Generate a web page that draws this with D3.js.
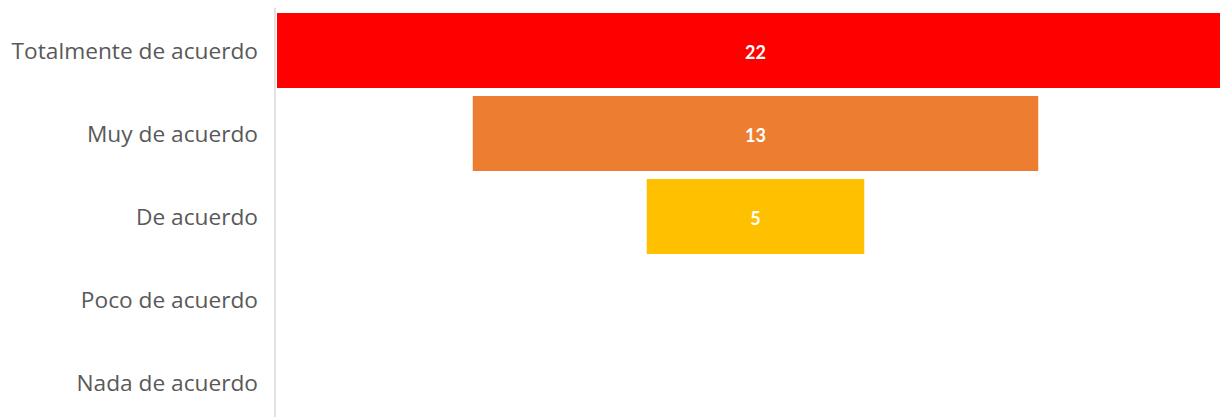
<!DOCTYPE html>
<html>
<head>
<meta charset="utf-8">
<script src="https://cdn.jsdelivr.net/npm/d3@7"></script>
<style>
  html, body { margin: 0; padding: 0; background: #fff; }
  svg { display: block; }
</style>
</head>
<body>
<svg id="chart" width="1220" height="417"></svg>
<script>
// Funnel data: one bar per response category
const categories = ["Totalmente de acuerdo", "Muy de acuerdo", "De acuerdo", "Poco de acuerdo", "Nada de acuerdo"];
const values = [22, 13, 5, 0, 0];
const colors = ["#FF0000", "#ED7D31", "#FFC000", "#5B9BD5", "#70AD47"];

const svg = d3.select("#chart");
const W = 1220, H = 417;
const axisX = 275;
const centerX = 755.5;

const y = d3.scaleBand()
  .domain(categories)
  .range([9, 424])
  .paddingInner(0.0964)
  .paddingOuter(0.0482);

const w = d3.scaleLinear()
  .domain([0, d3.max(values)])
  .range([0, 957]);

const rows = categories.map((c, i) => ({ cat: c, val: values[i], color: colors[i] }));

// Category axis line
svg.append("line")
  .attr("x1", axisX).attr("x2", axisX)
  .attr("y1", 8).attr("y2", H)
  .attr("stroke", "#d9d9d9").attr("stroke-width", 1.5);

// Category labels
svg.append("g").selectAll("text")
  .data(rows).join("text")
  .attr("x", 258)
  .attr("y", d => y(d.cat) + y.bandwidth() / 2)
  .attr("text-anchor", "end")
  .attr("dominant-baseline", "central")
  .attr("fill", "#595959")
  .style("font-family", "'Open Sans', sans-serif")
  .style("font-size", "22.7px")
  .text(d => d.cat);

// Funnel bars, centred on the plot
const bars = rows.filter(d => d.val > 0);
svg.append("g").selectAll("rect")
  .data(bars).join("rect")
  .attr("x", d => centerX - w(d.val) / 2)
  .attr("y", d => y(d.cat))
  .attr("width", d => w(d.val))
  .attr("height", y.bandwidth())
  .attr("fill", d => d.color);

// Value labels
svg.append("g").selectAll("text")
  .data(bars).join("text")
  .attr("x", centerX)
  .attr("y", d => y(d.cat) + y.bandwidth() / 2 + 1)
  .attr("text-anchor", "middle")
  .attr("dominant-baseline", "central")
  .attr("fill", "#ffffff")
  .style("font-family", "Lato, 'Open Sans', sans-serif")
  .style("font-weight", "bold")
  .style("font-size", "18px")
  .text(d => d.val);
</script>
</body>
</html>
